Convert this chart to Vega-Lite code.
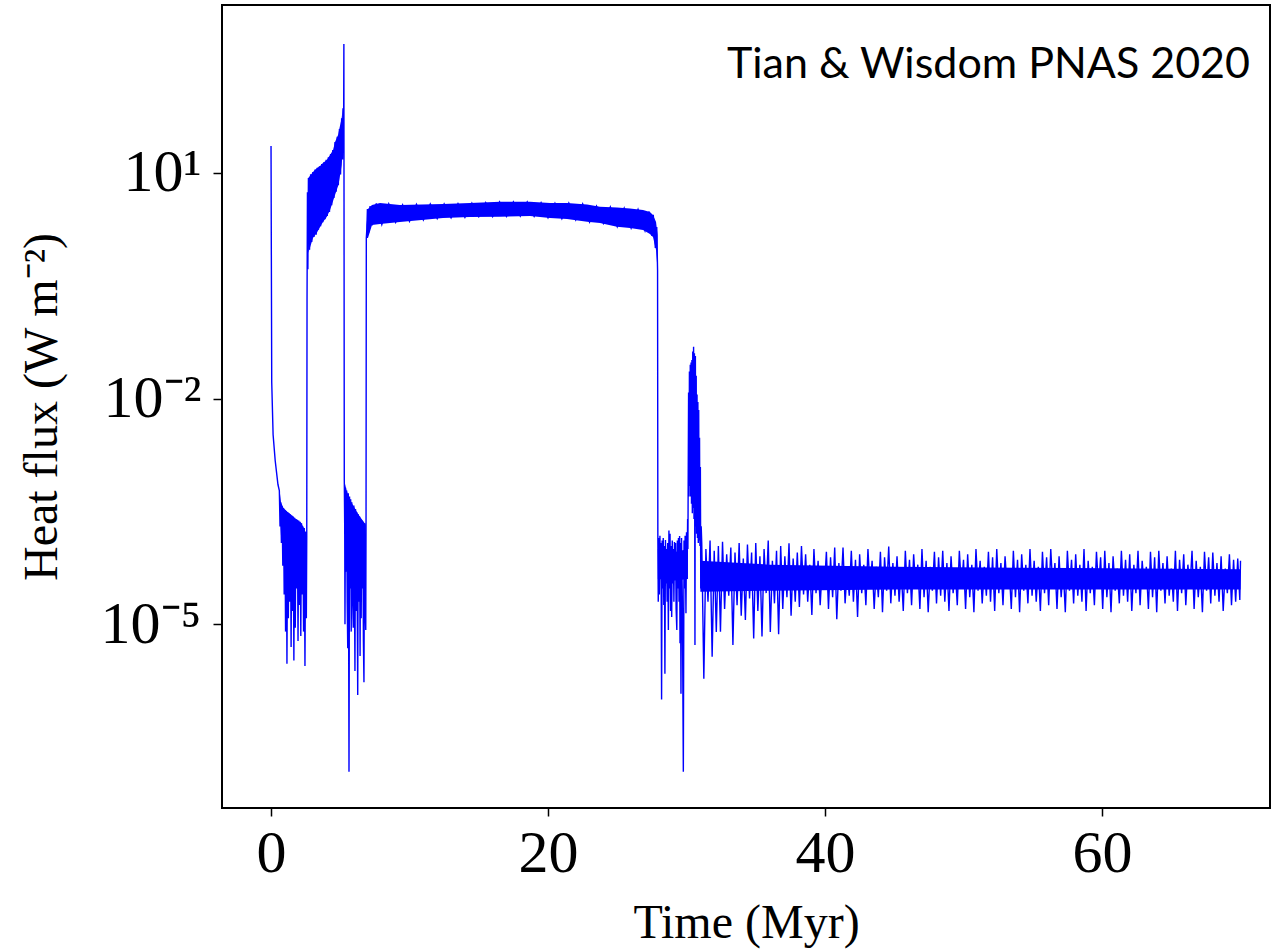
{
  "$schema": "https://vega.github.io/schema/vega-lite/v6.json",
  "width": 1048,
  "height": 803,
  "autosize": {"type": "none"},
  "padding": {"left": 222, "top": 5, "right": 2, "bottom": 143},
  "background": "white",
  "title": {"text": "Tian & Wisdom PNAS 2020", "anchor": "end", "orient": "top", "frame": "group", "offset": -60, "baseline": "middle", "dx": -20, "dy": 43, "font": "Lato", "fontSize": 43, "fontWeight": "normal", "color": "black"},
  "config": {
    "view": {"stroke": "black", "strokeWidth": 2},
    "axis": {"labelFont": "Liberation Serif", "titleFont": "Liberation Serif", "titleFontWeight": "normal", "labelColor": "black", "titleColor": "black", "tickColor": "black", "grid": false, "domain": false}
  },
  "datasets": {
    "bands": [
      {"seg": "e", "t": 0.62, "q": 0.0004, "q2": 0.0006},
      {"seg": "e", "t": 0.72, "q": 0.00015, "q2": 0.00042},
      {"seg": "e", "t": 0.9, "q": 9e-5, "q2": 0.00035},
      {"seg": "e", "t": 1.2, "q": 6e-5, "q2": 0.00031},
      {"seg": "e", "t": 1.8, "q": 5.5e-5, "q2": 0.00025},
      {"seg": "e", "t": 2.2, "q": 5e-5, "q2": 0.00022},
      {"seg": "e", "t": 2.55, "q": 4.5e-5, "q2": 0.00016},
      {"seg": "a", "t": 2.69, "q": 0.86, "q2": 8.5},
      {"seg": "a", "t": 3.03, "q": 1.36, "q2": 10.2},
      {"seg": "a", "t": 3.30, "q": 1.58, "q2": 11.5},
      {"seg": "a", "t": 3.54, "q": 1.9, "q2": 12.3},
      {"seg": "a", "t": 3.75, "q": 2.21, "q2": 13.5},
      {"seg": "a", "t": 4.02, "q": 2.58, "q2": 14.7},
      {"seg": "a", "t": 4.26, "q": 3.19, "q2": 17.2},
      {"seg": "a", "t": 4.48, "q": 4.21, "q2": 20.0},
      {"seg": "a", "t": 4.62, "q": 5.06, "q2": 25.6},
      {"seg": "a", "t": 4.84, "q": 6.66, "q2": 31.7},
      {"seg": "a", "t": 4.93, "q": 8.0, "q2": 38.1},
      {"seg": "a", "t": 5.10, "q": 12.7, "q2": 53.3},
      {"seg": "a", "t": 5.18, "q": 20, "q2": 72.4},
      {"seg": "f", "t": 5.3, "q": 0.0002, "q2": 0.0008},
      {"seg": "f", "t": 5.45, "q": 0.0001, "q2": 0.0006},
      {"seg": "f", "t": 5.8, "q": 6e-5, "q2": 0.00042},
      {"seg": "f", "t": 6.3, "q": 5e-5, "q2": 0.00029},
      {"seg": "f", "t": 6.84, "q": 4.5e-5, "q2": 0.00021},
      {"seg": "b", "t": 6.9, "q": 1.36, "q2": 2.0},
      {"seg": "b", "t": 7.0, "q": 1.36, "q2": 3.3},
      {"seg": "b", "t": 7.29, "q": 2.02, "q2": 3.72},
      {"seg": "b", "t": 7.87, "q": 2.08, "q2": 3.95},
      {"seg": "b", "t": 9.31, "q": 2.21, "q2": 3.72},
      {"seg": "b", "t": 12.42, "q": 2.5, "q2": 3.84},
      {"seg": "b", "t": 14.37, "q": 2.58, "q2": 3.96},
      {"seg": "b", "t": 16.53, "q": 2.6, "q2": 4.1},
      {"seg": "b", "t": 18.7, "q": 2.66, "q2": 4.1},
      {"seg": "b", "t": 20.14, "q": 2.5, "q2": 3.96},
      {"seg": "b", "t": 21.37, "q": 2.43, "q2": 3.96},
      {"seg": "b", "t": 22.82, "q": 2.23, "q2": 3.78},
      {"seg": "b", "t": 23.75, "q": 2.15, "q2": 3.53},
      {"seg": "b", "t": 24.98, "q": 1.92, "q2": 3.45},
      {"seg": "b", "t": 25.92, "q": 1.84, "q2": 3.34},
      {"seg": "b", "t": 26.86, "q": 1.73, "q2": 3.19},
      {"seg": "b", "t": 27.36, "q": 1.53, "q2": 3.0},
      {"seg": "b", "t": 27.58, "q": 1.4, "q2": 2.74},
      {"seg": "b", "t": 27.8, "q": 0.94, "q2": 2.21},
      {"seg": "b", "t": 27.91, "q": 0.51, "q2": 1.49},
      {"seg": "g", "t": 27.93, "q": 4e-5, "q2": 0.0001},
      {"seg": "g", "t": 29.0, "q": 3.8e-5, "q2": 9e-5},
      {"seg": "g", "t": 30.1, "q": 4e-5, "q2": 0.0001},
      {"seg": "c", "t": 31.0, "q": 2.7e-5, "q2": 7.0e-5},
      {"seg": "c", "t": 36.0, "q": 2.8e-5, "q2": 6.2e-5},
      {"seg": "c", "t": 45.0, "q": 2.9e-5, "q2": 5.8e-5},
      {"seg": "c", "t": 58.0, "q": 2.9e-5, "q2": 5.6e-5},
      {"seg": "c", "t": 70.0, "q": 2.9e-5, "q2": 5.4e-5}
    ],
    "trace": [
      {"t": 0, "q": 22.6}, {"t": 0.05, "q": 0.0166}, {"t": 0.15, "q": 0.0033}, {"t": 0.3, "q": 0.0015}, {"t": 0.5, "q": 0.00072},
      {"t": 0.6, "q": 0.0006}, {"t": 0.65, "q": 0.0002}, {"t": 0.7, "q": 0.00042}, {"t": 0.75, "q": 0.00012}, {"t": 0.8, "q": 0.00037},
      {"t": 0.85, "q": 6e-5}, {"t": 0.9, "q": 0.00035}, {"t": 0.95, "q": 2.5e-5}, {"t": 1.0, "q": 0.00033}, {"t": 1.05, "q": 8e-6},
      {"t": 1.1, "q": 0.00032}, {"t": 1.15, "q": 3e-6}, {"t": 1.2, "q": 0.00031}, {"t": 1.25, "q": 1.2e-5}, {"t": 1.3, "q": 0.0003},
      {"t": 1.35, "q": 2e-5}, {"t": 1.4, "q": 0.00029}, {"t": 1.45, "q": 5e-6}, {"t": 1.5, "q": 0.00028}, {"t": 1.55, "q": 1.5e-5},
      {"t": 1.6, "q": 0.00027}, {"t": 1.65, "q": 3.3e-6}, {"t": 1.7, "q": 0.00026}, {"t": 1.75, "q": 9e-6}, {"t": 1.8, "q": 0.00025},
      {"t": 1.85, "q": 3e-5}, {"t": 1.9, "q": 0.000245}, {"t": 1.95, "q": 6e-6}, {"t": 2.0, "q": 0.00024}, {"t": 2.05, "q": 1.8e-5},
      {"t": 2.1, "q": 0.00023}, {"t": 2.15, "q": 7e-6}, {"t": 2.2, "q": 0.00022}, {"t": 2.25, "q": 2.5e-5}, {"t": 2.3, "q": 0.0002},
      {"t": 2.35, "q": 8e-6}, {"t": 2.4, "q": 0.00019}, {"t": 2.45, "q": 2.8e-6}, {"t": 2.5, "q": 0.00017}, {"t": 2.55, "q": 1.2e-5},
      {"t": 2.58, "q": 0.00015}, {"t": 2.6, "q": 0.2}, {"t": 2.63, "q": 5.5}, {"t": 2.66, "q": 0.52}, {"t": 2.7, "q": 8.5},
      {"t": 2.78, "q": 0.95}, {"t": 2.86, "q": 9.5}, {"t": 2.94, "q": 1.2}, {"t": 3.02, "q": 10.2}, {"t": 3.1, "q": 1.4},
      {"t": 3.18, "q": 11}, {"t": 3.26, "q": 1.5}, {"t": 3.34, "q": 11.6}, {"t": 3.42, "q": 1.75}, {"t": 3.5, "q": 12.2},
      {"t": 3.58, "q": 1.95}, {"t": 3.66, "q": 13}, {"t": 3.74, "q": 2.2}, {"t": 3.82, "q": 13.8}, {"t": 3.9, "q": 2.4},
      {"t": 3.98, "q": 14.8}, {"t": 4.06, "q": 2.65}, {"t": 4.14, "q": 16}, {"t": 4.22, "q": 3.0}, {"t": 4.3, "q": 17.7},
      {"t": 4.38, "q": 3.7}, {"t": 4.46, "q": 20}, {"t": 4.54, "q": 4.6}, {"t": 4.62, "q": 25.6}, {"t": 4.7, "q": 5.6},
      {"t": 4.78, "q": 30}, {"t": 4.86, "q": 6.8}, {"t": 4.94, "q": 38}, {"t": 5.02, "q": 9.5}, {"t": 5.1, "q": 53},
      {"t": 5.16, "q": 15}, {"t": 5.2, "q": 72}, {"t": 5.24, "q": 30}, {"t": 5.26, "q": 513}, {"t": 5.29, "q": 0.00083},
      {"t": 5.32, "q": 0.0002}, {"t": 5.34, "q": 1e-5}, {"t": 5.38, "q": 0.00065}, {"t": 5.42, "q": 5e-5}, {"t": 5.46, "q": 0.0006},
      {"t": 5.5, "q": 2e-5}, {"t": 5.54, "q": 4.8e-6}, {"t": 5.58, "q": 0.00055}, {"t": 5.63, "q": 1.1e-7}, {"t": 5.67, "q": 0.0005},
      {"t": 5.71, "q": 3e-5}, {"t": 5.75, "q": 0.00046}, {"t": 5.79, "q": 8e-6}, {"t": 5.83, "q": 0.00042}, {"t": 5.88, "q": 2.5e-5},
      {"t": 5.94, "q": 9e-6}, {"t": 5.98, "q": 0.00038}, {"t": 6.02, "q": 4e-5}, {"t": 6.06, "q": 2.4e-6}, {"t": 6.1, "q": 0.00034},
      {"t": 6.14, "q": 1.5e-5}, {"t": 6.18, "q": 0.00031}, {"t": 6.22, "q": 3e-5}, {"t": 6.26, "q": 1.15e-6}, {"t": 6.3, "q": 0.00029},
      {"t": 6.35, "q": 2e-5}, {"t": 6.39, "q": 0.00027}, {"t": 6.43, "q": 3.8e-6}, {"t": 6.47, "q": 0.00025}, {"t": 6.51, "q": 1.2e-5},
      {"t": 6.55, "q": 0.00024}, {"t": 6.59, "q": 3e-5}, {"t": 6.63, "q": 0.00023}, {"t": 6.67, "q": 6e-6}, {"t": 6.71, "q": 1.7e-6},
      {"t": 6.75, "q": 0.00022}, {"t": 6.79, "q": 2e-5}, {"t": 6.84, "q": 8.4e-6}, {"t": 6.86, "q": 0.00021}, {"t": 6.88, "q": 1.36},
      {"t": 6.92, "q": 1.8}, {"t": 6.96, "q": 3.3}, {"t": 7.05, "q": 1.6}, {"t": 7.15, "q": 3.6}, {"t": 7.3, "q": 2.0},
      {"t": 7.6, "q": 3.9}, {"t": 8.0, "q": 2.05}, {"t": 8.5, "q": 3.85}, {"t": 9.0, "q": 2.2}, {"t": 9.5, "q": 3.75},
      {"t": 10.0, "q": 2.25}, {"t": 10.5, "q": 3.8}, {"t": 11.0, "q": 2.35}, {"t": 11.5, "q": 3.85}, {"t": 12.0, "q": 2.45},
      {"t": 12.5, "q": 3.85}, {"t": 13.0, "q": 2.5}, {"t": 13.5, "q": 3.9}, {"t": 14.0, "q": 2.55}, {"t": 14.5, "q": 3.95},
      {"t": 15.0, "q": 2.6}, {"t": 15.5, "q": 4.0}, {"t": 16.0, "q": 2.6}, {"t": 16.5, "q": 4.1}, {"t": 17.0, "q": 2.62},
      {"t": 17.5, "q": 4.1}, {"t": 18.0, "q": 2.65}, {"t": 18.5, "q": 4.1}, {"t": 19.0, "q": 2.62}, {"t": 19.5, "q": 4.0},
      {"t": 20.0, "q": 2.52}, {"t": 20.5, "q": 3.95}, {"t": 21.0, "q": 2.45}, {"t": 21.5, "q": 3.95}, {"t": 22.0, "q": 2.35},
      {"t": 22.5, "q": 3.85}, {"t": 23.0, "q": 2.2}, {"t": 23.5, "q": 3.6}, {"t": 24.0, "q": 2.12}, {"t": 24.5, "q": 3.5},
      {"t": 25.0, "q": 1.92}, {"t": 25.5, "q": 3.4}, {"t": 26.0, "q": 1.83}, {"t": 26.5, "q": 3.25}, {"t": 27.0, "q": 1.7},
      {"t": 27.3, "q": 3.05}, {"t": 27.5, "q": 1.45}, {"t": 27.6, "q": 2.75}, {"t": 27.75, "q": 1.0}, {"t": 27.85, "q": 1.9},
      {"t": 27.91, "q": 0.5}, {"t": 27.93, "q": 0.00015}, {"t": 27.96, "q": 2e-5}, {"t": 28.0, "q": 0.00014}, {"t": 28.04, "q": 2.5e-5},
      {"t": 28.08, "q": 0.00015}, {"t": 28.12, "q": 4e-5}, {"t": 28.16, "q": 0.00012}, {"t": 28.2, "q": 1e-6}, {"t": 28.24, "q": 0.00013},
      {"t": 28.28, "q": 3e-5}, {"t": 28.32, "q": 0.00014}, {"t": 28.36, "q": 1.8e-5}, {"t": 28.4, "q": 0.00011}, {"t": 28.44, "q": 2.2e-6},
      {"t": 28.48, "q": 0.000132}, {"t": 28.52, "q": 3.5e-5}, {"t": 28.56, "q": 0.0001}, {"t": 28.6, "q": 2e-5}, {"t": 28.64, "q": 0.00012},
      {"t": 28.69, "q": 8.4e-6}, {"t": 28.73, "q": 0.000176}, {"t": 28.77, "q": 3e-5}, {"t": 28.81, "q": 0.00016}, {"t": 28.85, "q": 1.5e-5},
      {"t": 28.89, "q": 0.00011}, {"t": 28.93, "q": 1.25e-5}, {"t": 28.97, "q": 0.00013}, {"t": 29.01, "q": 3.5e-5}, {"t": 29.05, "q": 0.0001},
      {"t": 29.09, "q": 2e-5}, {"t": 29.13, "q": 0.000124}, {"t": 29.17, "q": 4e-5}, {"t": 29.21, "q": 0.00012}, {"t": 29.25, "q": 1.6e-5},
      {"t": 29.3, "q": 8.4e-6}, {"t": 29.34, "q": 0.00013}, {"t": 29.38, "q": 3e-5}, {"t": 29.42, "q": 0.00014}, {"t": 29.46, "q": 2e-5},
      {"t": 29.5, "q": 0.000149}, {"t": 29.53, "q": 5.6e-6}, {"t": 29.56, "q": 0.00012}, {"t": 29.6, "q": 1.2e-6}, {"t": 29.64, "q": 0.00014},
      {"t": 29.7, "q": 2e-5}, {"t": 29.77, "q": 1.1e-7}, {"t": 29.82, "q": 0.00013}, {"t": 29.86, "q": 3e-5}, {"t": 29.9, "q": 0.00015},
      {"t": 29.96, "q": 1.4e-5}, {"t": 30.0, "q": 0.000167}, {"t": 30.04, "q": 4e-5}, {"t": 30.08, "q": 0.00025}, {"t": 30.1, "q": 0.0001},
      {"t": 30.15, "q": 0.012}, {"t": 30.18, "q": 0.0005}, {"t": 30.21, "q": 0.0228}, {"t": 30.24, "q": 0.00069}, {"t": 30.27, "q": 0.028},
      {"t": 30.3, "q": 0.0005}, {"t": 30.33, "q": 0.03}, {"t": 30.36, "q": 0.0004}, {"t": 30.39, "q": 0.0325}, {"t": 30.42, "q": 0.0003},
      {"t": 30.45, "q": 0.042}, {"t": 30.48, "q": 0.00035}, {"t": 30.51, "q": 0.0488}, {"t": 30.54, "q": 0.00025}, {"t": 30.57, "q": 0.04},
      {"t": 30.61, "q": 5.3e-6}, {"t": 30.64, "q": 0.0367}, {"t": 30.67, "q": 0.0002}, {"t": 30.7, "q": 0.02}, {"t": 30.73, "q": 0.00016},
      {"t": 30.76, "q": 0.0113}, {"t": 30.79, "q": 0.00014}, {"t": 30.82, "q": 0.009}, {"t": 30.85, "q": 0.00012}, {"t": 30.88, "q": 0.00704},
      {"t": 30.91, "q": 0.00013}, {"t": 30.94, "q": 0.003}, {"t": 30.97, "q": 0.00011}, {"t": 31.0, "q": 0.00123}, {"t": 31.03, "q": 3e-5},
      {"t": 31.06, "q": 0.0002},
      {"t": 31.1, "q": 1.2e-4}, {"t": 31.25, "q": 1.9e-6}, {"t": 31.4, "q": 1.0e-4}, {"t": 31.55, "q": 2.0e-5}, {"t": 31.7, "q": 1.3e-4},
      {"t": 31.85, "q": 3.7e-6}, {"t": 32.0, "q": 9.5e-5}, {"t": 32.15, "q": 7.9e-6}, {"t": 32.3, "q": 1.1e-4}, {"t": 32.45, "q": 8e-6},
      {"t": 32.6, "q": 1.25e-4}, {"t": 32.75, "q": 1.6e-5}, {"t": 32.9, "q": 8.5e-5}, {"t": 33.05, "q": 2.4e-5}, {"t": 33.2, "q": 1.05e-4},
      {"t": 33.35, "q": 5.3e-6}, {"t": 33.5, "q": 9e-5}, {"t": 33.65, "q": 1.8e-5}, {"t": 33.8, "q": 1.2e-4}, {"t": 33.95, "q": 1.3e-5},
      {"t": 34.1, "q": 7.5e-5}, {"t": 34.25, "q": 1.14e-5}, {"t": 34.4, "q": 1.15e-4}, {"t": 34.55, "q": 2.2e-5}, {"t": 34.7, "q": 9e-5},
      {"t": 34.85, "q": 6.5e-6}, {"t": 35.0, "q": 1.2e-4}, {"t": 35.15, "q": 1.5e-5}, {"t": 35.3, "q": 8e-5}, {"t": 35.45, "q": 6.9e-6},
      {"t": 35.6, "q": 1.0e-4}, {"t": 35.75, "q": 2.6e-5}, {"t": 35.9, "q": 1.3e-4}, {"t": 36.05, "q": 7.9e-6}, {"t": 36.2, "q": 7e-5},
      {"t": 36.35, "q": 1.9e-5}, {"t": 36.5, "q": 9.5e-5}, {"t": 36.65, "q": 7.4e-6}, {"t": 36.8, "q": 1.1e-4}, {"t": 36.95, "q": 1.6e-5},
      {"t": 37.1, "q": 8e-5}, {"t": 37.25, "q": 2.3e-5}, {"t": 37.4, "q": 1.19e-4}, {"t": 37.55, "q": 1.3e-5}, {"t": 37.7, "q": 7.5e-5},
      {"t": 37.85, "q": 2.0e-5}, {"t": 38.0, "q": 9e-5}, {"t": 38.15, "q": 1.7e-5}, {"t": 38.3, "q": 1.1e-4}, {"t": 38.45, "q": 2.5e-5},
      {"t": 38.6, "q": 8.5e-5}, {"t": 38.75, "q": 2.0e-5}, {"t": 38.9, "q": 6.2e-5}, {"t": 39.05, "q": 1.33e-5}, {"t": 39.2, "q": 1.0e-4},
      {"t": 39.35, "q": 2.6e-5}, {"t": 39.5, "q": 7.0e-5}, {"t": 39.65, "q": 1.8e-5}, {"t": 39.8, "q": 5.8e-5}, {"t": 39.95, "q": 3.0e-5},
      {"t": 40.1, "q": 9.2e-5}, {"t": 40.25, "q": 1.6e-5}, {"t": 40.4, "q": 7.8e-5}, {"t": 40.55, "q": 2.3e-5}, {"t": 40.7, "q": 1.05e-4},
      {"t": 40.85, "q": 1.17e-5}, {"t": 41.0, "q": 6.5e-5}, {"t": 41.15, "q": 2.8e-5}, {"t": 41.3, "q": 1.05e-4}, {"t": 41.45, "q": 1.9e-5},
      {"t": 41.6, "q": 5.5e-5}, {"t": 41.75, "q": 2.4e-5}, {"t": 41.9, "q": 9.5e-5}, {"t": 42.05, "q": 2.0e-5}, {"t": 42.2, "q": 7.2e-5},
      {"t": 42.35, "q": 1.25e-5}, {"t": 42.5, "q": 8.5e-5}, {"t": 42.65, "q": 2.6e-5}, {"t": 42.8, "q": 6.2e-5}, {"t": 42.95, "q": 1.8e-5},
      {"t": 43.1, "q": 1.0e-4}, {"t": 43.25, "q": 3.0e-5}, {"t": 43.4, "q": 7.0e-5}, {"t": 43.55, "q": 1.6e-5}, {"t": 43.7, "q": 5.8e-5},
      {"t": 43.85, "q": 2.3e-5}, {"t": 44.0, "q": 9.2e-5}, {"t": 44.15, "q": 1.45e-5}, {"t": 44.3, "q": 7.8e-5}, {"t": 44.45, "q": 2.8e-5},
      {"t": 44.6, "q": 1.08e-4}, {"t": 44.75, "q": 1.9e-5}, {"t": 44.9, "q": 6.5e-5}, {"t": 45.05, "q": 2.4e-5}, {"t": 45.2, "q": 8.0e-5},
      {"t": 45.35, "q": 2.0e-5}, {"t": 45.5, "q": 5.5e-5}, {"t": 45.65, "q": 1.5e-5}, {"t": 45.8, "q": 9.5e-5}, {"t": 45.95, "q": 2.6e-5},
      {"t": 46.1, "q": 7.2e-5}, {"t": 46.25, "q": 1.8e-5}, {"t": 46.4, "q": 8.5e-5}, {"t": 46.55, "q": 3.0e-5}, {"t": 46.7, "q": 6.2e-5},
      {"t": 46.85, "q": 1.6e-5}, {"t": 47.0, "q": 1.0e-4}, {"t": 47.15, "q": 2.3e-5}, {"t": 47.3, "q": 7.0e-5}, {"t": 47.45, "q": 1.45e-5},
      {"t": 47.6, "q": 5.8e-5}, {"t": 47.75, "q": 2.8e-5}, {"t": 47.9, "q": 9.2e-5}, {"t": 48.05, "q": 1.9e-5}, {"t": 48.2, "q": 7.8e-5},
      {"t": 48.35, "q": 2.4e-5}, {"t": 48.5, "q": 9.5e-5}, {"t": 48.65, "q": 2.0e-5}, {"t": 48.8, "q": 6.5e-5}, {"t": 48.95, "q": 1.5e-5},
      {"t": 49.1, "q": 8.0e-5}, {"t": 49.25, "q": 2.6e-5}, {"t": 49.4, "q": 5.5e-5}, {"t": 49.55, "q": 1.8e-5}, {"t": 49.7, "q": 9.5e-5},
      {"t": 49.85, "q": 3.0e-5}, {"t": 50.0, "q": 7.2e-5}, {"t": 50.15, "q": 1.6e-5}, {"t": 50.3, "q": 8.5e-5}, {"t": 50.45, "q": 2.3e-5},
      {"t": 50.6, "q": 6.2e-5}, {"t": 50.75, "q": 1.45e-5}, {"t": 50.9, "q": 1.0e-4}, {"t": 51.05, "q": 2.8e-5}, {"t": 51.2, "q": 7.0e-5},
      {"t": 51.35, "q": 1.9e-5}, {"t": 51.5, "q": 5.8e-5}, {"t": 51.65, "q": 2.4e-5}, {"t": 51.8, "q": 9.2e-5}, {"t": 51.95, "q": 2.0e-5},
      {"t": 52.1, "q": 7.8e-5}, {"t": 52.25, "q": 1.5e-5}, {"t": 52.4, "q": 1.0e-4}, {"t": 52.55, "q": 2.6e-5}, {"t": 52.7, "q": 6.5e-5},
      {"t": 52.85, "q": 1.8e-5}, {"t": 53.0, "q": 8.0e-5}, {"t": 53.15, "q": 3.0e-5}, {"t": 53.3, "q": 5.5e-5}, {"t": 53.45, "q": 1.6e-5},
      {"t": 53.6, "q": 9.5e-5}, {"t": 53.75, "q": 2.3e-5}, {"t": 53.9, "q": 7.2e-5}, {"t": 54.05, "q": 1.45e-5}, {"t": 54.2, "q": 8.5e-5},
      {"t": 54.35, "q": 2.8e-5}, {"t": 54.5, "q": 6.2e-5}, {"t": 54.65, "q": 1.9e-5}, {"t": 54.8, "q": 1.0e-4}, {"t": 54.95, "q": 2.4e-5},
      {"t": 55.1, "q": 7.0e-5}, {"t": 55.25, "q": 2.0e-5}, {"t": 55.4, "q": 5.8e-5}, {"t": 55.55, "q": 1.5e-5}, {"t": 55.7, "q": 9.2e-5},
      {"t": 55.85, "q": 2.6e-5}, {"t": 56.0, "q": 7.8e-5}, {"t": 56.15, "q": 1.8e-5}, {"t": 56.3, "q": 1.0e-4}, {"t": 56.45, "q": 3.0e-5},
      {"t": 56.6, "q": 6.5e-5}, {"t": 56.75, "q": 1.6e-5}, {"t": 56.9, "q": 8.0e-5}, {"t": 57.05, "q": 2.3e-5}, {"t": 57.2, "q": 5.5e-5},
      {"t": 57.35, "q": 1.45e-5}, {"t": 57.5, "q": 9.5e-5}, {"t": 57.65, "q": 2.8e-5}, {"t": 57.8, "q": 7.2e-5}, {"t": 57.95, "q": 1.9e-5},
      {"t": 58.1, "q": 8.5e-5}, {"t": 58.25, "q": 2.4e-5}, {"t": 58.4, "q": 6.2e-5}, {"t": 58.55, "q": 2.0e-5}, {"t": 58.7, "q": 1.0e-4},
      {"t": 58.85, "q": 1.5e-5}, {"t": 59.0, "q": 7.0e-5}, {"t": 59.15, "q": 2.6e-5}, {"t": 59.3, "q": 5.8e-5}, {"t": 59.45, "q": 1.8e-5},
      {"t": 59.6, "q": 9.2e-5}, {"t": 59.75, "q": 3.0e-5}, {"t": 59.9, "q": 7.8e-5}, {"t": 60.05, "q": 1.6e-5}, {"t": 60.2, "q": 9.5e-5},
      {"t": 60.35, "q": 2.3e-5}, {"t": 60.5, "q": 6.5e-5}, {"t": 60.65, "q": 1.45e-5}, {"t": 60.8, "q": 8.0e-5}, {"t": 60.95, "q": 2.8e-5},
      {"t": 61.1, "q": 5.5e-5}, {"t": 61.25, "q": 1.9e-5}, {"t": 61.4, "q": 9.5e-5}, {"t": 61.55, "q": 2.4e-5}, {"t": 61.7, "q": 7.2e-5},
      {"t": 61.85, "q": 2.0e-5}, {"t": 62.0, "q": 8.5e-5}, {"t": 62.15, "q": 1.5e-5}, {"t": 62.3, "q": 6.2e-5}, {"t": 62.45, "q": 2.6e-5},
      {"t": 62.6, "q": 9.5e-5}, {"t": 62.75, "q": 1.8e-5}, {"t": 62.9, "q": 7.0e-5}, {"t": 63.05, "q": 3.0e-5}, {"t": 63.2, "q": 5.8e-5},
      {"t": 63.35, "q": 1.6e-5}, {"t": 63.5, "q": 9.2e-5}, {"t": 63.65, "q": 2.3e-5}, {"t": 63.8, "q": 7.8e-5}, {"t": 63.95, "q": 1.45e-5},
      {"t": 64.1, "q": 9.5e-5}, {"t": 64.25, "q": 2.8e-5}, {"t": 64.4, "q": 6.5e-5}, {"t": 64.55, "q": 1.9e-5}, {"t": 64.7, "q": 8.0e-5},
      {"t": 64.85, "q": 2.4e-5}, {"t": 65.0, "q": 5.5e-5}, {"t": 65.15, "q": 2.0e-5}, {"t": 65.3, "q": 9.5e-5}, {"t": 65.45, "q": 1.5e-5},
      {"t": 65.6, "q": 7.2e-5}, {"t": 65.75, "q": 2.6e-5}, {"t": 65.9, "q": 8.5e-5}, {"t": 66.05, "q": 1.8e-5}, {"t": 66.2, "q": 6.2e-5},
      {"t": 66.35, "q": 3.0e-5}, {"t": 66.5, "q": 9.5e-5}, {"t": 66.65, "q": 1.6e-5}, {"t": 66.8, "q": 7.0e-5}, {"t": 66.95, "q": 2.3e-5},
      {"t": 67.1, "q": 5.8e-5}, {"t": 67.25, "q": 1.45e-5}, {"t": 67.4, "q": 9.2e-5}, {"t": 67.55, "q": 2.8e-5}, {"t": 67.7, "q": 7.8e-5},
      {"t": 67.85, "q": 1.9e-5}, {"t": 68.0, "q": 9.0e-5}, {"t": 68.15, "q": 2.4e-5}, {"t": 68.3, "q": 6.5e-5}, {"t": 68.45, "q": 2.0e-5},
      {"t": 68.6, "q": 8.0e-5}, {"t": 68.75, "q": 1.5e-5}, {"t": 68.9, "q": 5.5e-5}, {"t": 69.05, "q": 2.6e-5}, {"t": 69.2, "q": 8.5e-5},
      {"t": 69.35, "q": 1.8e-5}, {"t": 69.5, "q": 7.2e-5}, {"t": 69.65, "q": 2.0e-5}, {"t": 69.8, "q": 7.5e-5}, {"t": 69.95, "q": 2.1e-5},
      {"t": 70.0, "q": 7.0e-5}
    ]
  },
  "encoding": {
    "x": {
      "field": "t", "type": "quantitative",
      "scale": {"domain": [-3.54, 72.13], "nice": false, "zero": false},
      "axis": {"values": [0, 20, 40, 60], "title": "Time (Myr)", "labelFontSize": 60, "labelPadding": 8, "tickSize": 8, "tickWidth": 1.5, "titleFontSize": 48, "titlePadding": 16, "labelFlush": false}
    },
    "y": {
      "field": "q", "type": "quantitative",
      "scale": {"type": "log", "domain": [3.63e-8, 1690], "nice": false},
      "axis": {"values": [10, 0.01, 0.00001], "labelExpr": "datum.value >= 1 ? '10¹' : (datum.value > 0.001 ? '10⁻²' : '10⁻⁵')", "title": "Heat flux (W m⁻²)", "labelFontSize": 60, "labelPadding": 12, "tickSize": 9, "tickWidth": 1.5, "titleFontSize": 48, "titlePadding": 34, "labelFlush": false}
    }
  },
  "layer": [
    {
      "data": {"name": "bands"},
      "mark": {"type": "area", "color": "#0000ff", "opacity": 1},
      "encoding": {"y2": {"field": "q2"}, "detail": {"field": "seg"}}
    },
    {
      "data": {"name": "trace"},
      "mark": {"type": "line", "color": "#0000ff", "strokeWidth": 1.4, "clip": true}
    }
  ]
}
